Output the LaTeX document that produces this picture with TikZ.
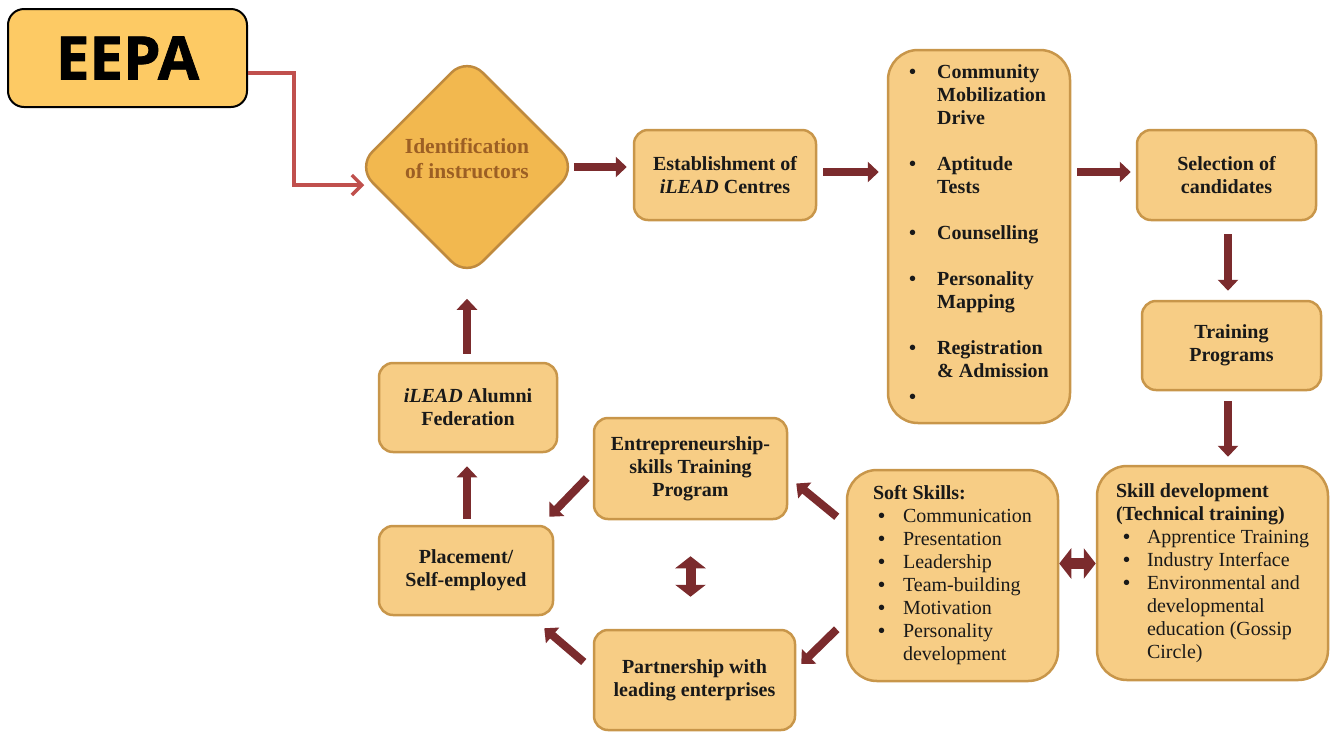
\documentclass[tikz,border=0pt]{standalone}
\usepackage{fontspec}
\setmainfont{Liberation Serif}
\newfontfamily\eepafont[BoldFeatures={FakeBold=1.2}]{Open Sans}
\usetikzlibrary{arrows.meta,shapes.geometric}

\definecolor{eepafill}{HTML}{FDCA64}
\definecolor{boxfill}{HTML}{F7CD85}
\definecolor{boxline}{HTML}{C8964A}
\definecolor{diafill}{HTML}{F2B84F}
\definecolor{dialine}{HTML}{BF8A3E}
\definecolor{diatext}{HTML}{9C5F24}
\definecolor{flow}{HTML}{7B2B2D}
\definecolor{feedred}{HTML}{C0504D}

\tikzset{
  headbox/.style={draw=black, line width=2pt, fill=eepafill, rounded corners=16pt,
    minimum width=239, minimum height=98, font=\eepafont\bfseries\fontsize{60}{62}\selectfont},
  keystep/.style={diamond, draw=dialine, line width=2.5pt, fill=diafill, rounded corners=22pt,
    minimum width=221, minimum height=221, inner sep=0pt, align=center, text=diatext,
    font=\fontsize{21.5}{25}\selectfont\bfseries},
  stage/.style={draw=boxline, line width=2.5pt, fill=boxfill, rounded corners=14pt,
    align=center, text=black!90, font=\fontsize{20}{23}\selectfont\bfseries},
  listbox/.style={stage, rounded corners=30pt},
  flowarrow/.style={draw=flow, line width=8pt, -{Triangle[length=11pt,width=20pt]}},
  twoway/.style={draw=flow, line width=11pt,
    {Triangle[length=12pt,width=30pt]}-{Triangle[length=12pt,width=30pt]}},
  feed/.style={draw=feedred, line width=3.5pt, -{Straight Barb[length=10pt,width=20pt]}}
}

\begin{document}
\begin{tikzpicture}[x=1pt, y=-1pt]
\useasboundingbox (0,0) rectangle (1330,732);

% top row
\node[headbox] (eepa) at (127.5,58) {EEPA};
\node[keystep] (ident) at (467,167)
  {\raisebox{1pt}[0pt][0pt]{\begin{tabular}{@{}c@{}}Identification\\of instructors\end{tabular}}};
\node[stage, minimum width=182, minimum height=90] (estab) at (725,175)
  {Establishment of\\\textit{iLEAD} Centres};
\node[listbox, minimum width=182, minimum height=373] (mobil) at (979,236.5) {%
  \begin{tabular}{@{}p{28pt}@{}l@{}}
  \textbullet & Community\\ & Mobilization\\ & Drive\\[23pt]
  \textbullet & Aptitude\\ & Tests\\[23pt]
  \textbullet & Counselling\\[23pt]
  \textbullet & Personality\\ & Mapping\\[23pt]
  \textbullet & Registration\\ & \& Admission\\[3pt]
  \textbullet &
  \end{tabular}};
\node[stage, minimum width=179, minimum height=90] (select) at (1226.5,175)
  {Selection of\\candidates};

% right column
\node[stage, minimum width=179, minimum height=89] (train) at (1231.5,345.5)
  {Training\\Programs};
\node[listbox, minimum width=231, minimum height=214] (skill) at (1212.5,573) {%
  \begin{tabular}{@{\hspace{7pt}}p{24pt}@{}l@{}}
  \multicolumn{2}{@{}l@{}}{Skill development}\\
  \multicolumn{2}{@{}l@{}}{(Technical training)}\\
  \textbullet & \mdseries Apprentice Training\\
  \textbullet & \mdseries Industry Interface\\
  \textbullet & \mdseries Environmental and\\
   & \mdseries developmental\\
   & \mdseries education (Gossip\\
   & \mdseries Circle)
  \end{tabular}};
\node[listbox, minimum width=211, minimum height=211] (soft) at (952.5,575.5) {%
  \begin{tabular}{@{\hspace{5pt}}p{25pt}@{}l@{}}
  \multicolumn{2}{@{}l@{}}{Soft Skills:}\\
  \textbullet & \mdseries Communication\\
  \textbullet & \mdseries Presentation\\
  \textbullet & \mdseries Leadership\\
  \textbullet & \mdseries Team-building\\
  \textbullet & \mdseries Motivation\\
  \textbullet & \mdseries Personality\\
   & \mdseries development
  \end{tabular}};

% lower loop
\node[stage, minimum width=193, minimum height=101] (entre) at (690.5,468.5)
  {Entrepreneurship-\\skills Training\\Program};
\node[stage, minimum width=201, minimum height=100] (partner) at (694.5,680)
  {Partnership with\\leading enterprises};
\node[stage, minimum width=174, minimum height=89] (place) at (466,570.5)
  {Placement/\\Self-employed};
\node[stage, minimum width=178, minimum height=89] (alumni) at (468,407.5)
  {\textit{iLEAD} Alumni\\Federation};

% connectors
\draw[feed] ([yshift=-15pt]eepa.east) -- ++(46,0) |- ([shift={(9,18)}]ident.west);
\draw[flowarrow, shorten <=-5pt, shorten >=6pt] (ident.east) -- (ident.east -| estab.west);
\draw[flowarrow, shorten <=6pt, shorten >=8pt] ([yshift=3pt]estab.east) -- ([yshift=3pt]estab.east -| mobil.west);
\draw[flowarrow, shorten <=6pt, shorten >=5pt] ([yshift=3pt]mobil.east |- select.west) -- ([yshift=3pt]select.west);
\draw[flowarrow, shorten <=13pt, shorten >=9pt] ([xshift=1.5pt]select.south) -- ([xshift=1.5pt]select.south |- train.north);
\draw[flowarrow, shorten <=10pt, shorten >=8pt] ([xshift=-3.5pt]train.south) -- ([xshift=-3.5pt]train.south |- skill.north);
\draw[twoway] ([yshift=12pt]soft.east) -- ([yshift=12pt]soft.east -| skill.west);
\draw[flowarrow] ([shift={(-9,48)}]soft.north west) -- ([shift={(8,15)}]entre.east);
\draw[flowarrow] ([shift={(-9,-53)}]soft.south west) -- ([shift={(5,-16)}]partner.east);
\draw[twoway, line width=10pt, shorten <=36pt, shorten >=32pt] (entre.south) -- (entre.south |- partner.north);
\draw[flowarrow] ([shift={(-6,9.5)}]entre.west) -- ([shift={(-5,-8)}]place.north east);
\draw[flowarrow] ([shift={(-9,-18)}]partner.west) -- ([shift={(-10,12)}]place.south east);
\draw[flowarrow, shorten <=6pt, shorten >=13pt] ([xshift=1pt]place.north) -- ([xshift=1pt]place.north |- alumni.south);
\draw[flowarrow, shorten <=8pt, shorten >=20pt] ([xshift=-1pt]alumni.north) -- ([xshift=-1pt]alumni.north |- ident.south);
\end{tikzpicture}
\end{document}
